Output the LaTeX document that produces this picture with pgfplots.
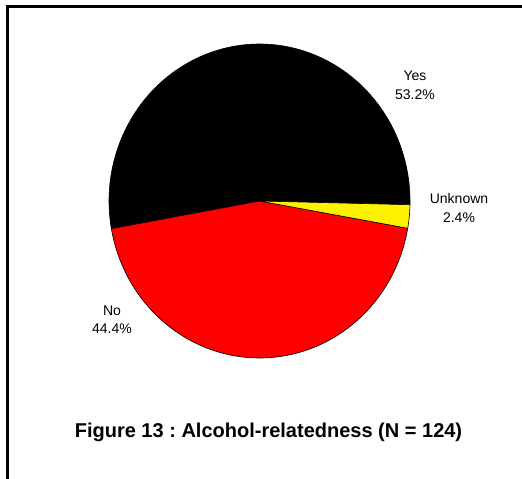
\documentclass[border=0pt]{standalone}
\usepackage{pgfplots}
\pgfplotsset{compat=1.18}
\usepackage{fontspec}
\setmainfont{Liberation Sans}
\frenchspacing

% Alcohol-relatedness shares (percent)
\newcommand\vYes{53.2}
\newcommand\vNo{44.4}
\newcommand\vUnk{2.4}

\begin{document}
\begin{tikzpicture}
% slice boundaries (degrees, counter-clockwise)
\pgfmathsetmacro\aA{-10}
\pgfmathsetmacro\aB{\aA+3.6*\vUnk}
\pgfmathsetmacro\aC{\aB+3.6*\vYes}
\pgfmathsetmacro\aD{\aC+3.6*\vNo}

\begin{axis}[
  at={(259.5bp,-201bp)}, anchor=center,
  scale only axis, width=301bp, height=314bp,
  xmin=-1, xmax=1, ymin=-1, ymax=1,
  hide axis, clip=false,
]
\addplot[fill=black, draw=black, line width=0.6bp, domain=\aB:\aC, samples=200, variable=\t]
  ({cos(\t)},{sin(\t)}) -- (axis cs:0,0) -- cycle;
\addplot[fill=red, draw=black, line width=0.6bp, domain=\aC:\aD, samples=200, variable=\t]
  ({cos(\t)},{sin(\t)}) -- (axis cs:0,0) -- cycle;
\addplot[fill=yellow, draw=black, line width=0.6bp, domain=\aA:\aB, samples=20, variable=\t]
  ({cos(\t)},{sin(\t)}) -- (axis cs:0,0) -- cycle;
\end{axis}

\begin{scope}[x=1bp,y=1bp]
\useasboundingbox (0,0) rectangle (522,-479);
% frame
\draw[line width=2.8bp] (7.5,-479) -- (7.5,-6.5) -- (522,-6.5);

\begin{scope}[every node/.style={font=\fontsize{14bp}{16bp}\selectfont, anchor=base, inner sep=0pt}]
\node at (415,-80.7) {Yes};
\node at (415,-99.3) {\vYes\%};
\node at (459,-203.3) {Unknown};
\node at (459,-222.3) {\vUnk\%};
\node at (112,-315) {No};
\node at (112,-333.3) {\vNo\%};
\end{scope}

\node[anchor=base, inner sep=0pt, font=\bfseries\fontsize{20bp}{24bp}\selectfont]
  at (268.5,-437.7) {Figure 13 : Alcohol-relatedness (N = 124)};
\end{scope}
\end{tikzpicture}
\end{document}
